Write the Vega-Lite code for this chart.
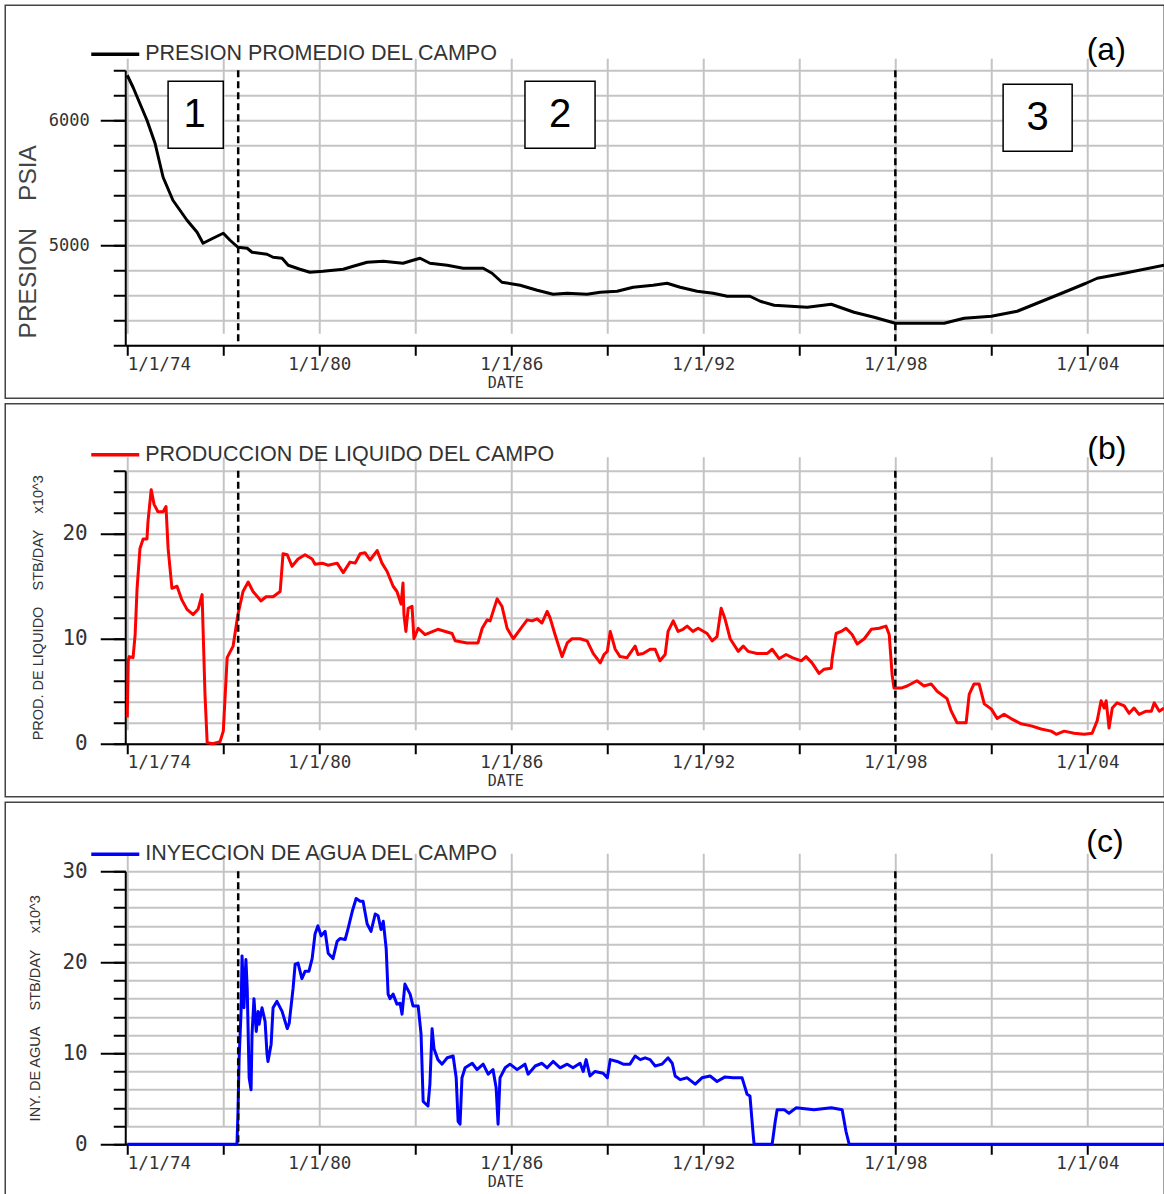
{
  "$schema": "https://vega.github.io/schema/vega-lite/v6.json",
  "padding": {"left": 4.25, "top": 4.25, "right": 0, "bottom": 0},
  "background": "white",
  "spacing": 3.5,
  "config": {
    "font": "Liberation Sans",
    "view": {"stroke": "#444444", "strokeWidth": 1.5},
    "axis": {
      "gridColor": "#c4c4c4", "gridWidth": 2,
      "domainColor": "#000000", "domainWidth": 2,
      "tickColor": "#000000", "tickWidth": 2,
      "labelColor": "#333333", "labelFont": "DejaVu Sans Mono",
      "titleColor": "#333333", "titleFontWeight": "normal", "titleFont": "Liberation Sans"
    },
    "legend": {
      "orient": "none", "title": null, "padding": 0,
      "labelFont": "Liberation Sans", "labelFontSize": 21.5, "labelColor": "#333333", "labelLimit": 1000, "labelOffset": 4,
      "symbolType": "stroke", "symbolSize": 2304, "symbolStrokeWidth": 3.5
    }
  },
  "resolve": {"scale": {"color": "independent"}, "legend": {"color": "independent"}},
  "datasets": {
    "presion": [
      {"fecha": "1974-01-01", "psia": 6360}, {"fecha": "1974-03-08", "psia": 6264}, {"fecha": "1974-08-14", "psia": 6000},
      {"fecha": "1974-11-14", "psia": 5816}, {"fecha": "1975-02-14", "psia": 5544}, {"fecha": "1975-06-06", "psia": 5360},
      {"fecha": "1975-11-14", "psia": 5200}, {"fecha": "1976-03-08", "psia": 5104}, {"fecha": "1976-05-15", "psia": 5016},
      {"fecha": "1976-09-05", "psia": 5056}, {"fecha": "1977-01-01", "psia": 5096}, {"fecha": "1977-03-19", "psia": 5040},
      {"fecha": "1977-06-17", "psia": 4984}, {"fecha": "1977-10-01", "psia": 4976}, {"fecha": "1977-11-25", "psia": 4944},
      {"fecha": "1978-05-15", "psia": 4928}, {"fecha": "1978-07-23", "psia": 4904}, {"fecha": "1978-11-03", "psia": 4896},
      {"fecha": "1979-01-12", "psia": 4840}, {"fecha": "1979-05-26", "psia": 4808}, {"fecha": "1979-09-16", "psia": 4784},
      {"fecha": "1980-02-14", "psia": 4792}, {"fecha": "1980-10-01", "psia": 4808}, {"fecha": "1981-01-23", "psia": 4832},
      {"fecha": "1981-07-01", "psia": 4864}, {"fecha": "1982-01-01", "psia": 4872}, {"fecha": "1982-04-23", "psia": 4864},
      {"fecha": "1982-08-14", "psia": 4856}, {"fecha": "1982-12-06", "psia": 4880}, {"fecha": "1983-02-25", "psia": 4896},
      {"fecha": "1983-06-17", "psia": 4856}, {"fecha": "1984-01-01", "psia": 4840}, {"fecha": "1984-07-01", "psia": 4816},
      {"fecha": "1985-02-14", "psia": 4816}, {"fecha": "1985-05-26", "psia": 4776}, {"fecha": "1985-09-16", "psia": 4704},
      {"fecha": "1986-04-12", "psia": 4680}, {"fecha": "1986-10-23", "psia": 4640}, {"fecha": "1987-04-23", "psia": 4608},
      {"fecha": "1987-10-01", "psia": 4616}, {"fecha": "1988-05-15", "psia": 4608}, {"fecha": "1988-10-12", "psia": 4624},
      {"fecha": "1989-04-23", "psia": 4632}, {"fecha": "1989-10-23", "psia": 4664}, {"fecha": "1990-06-06", "psia": 4680},
      {"fecha": "1990-11-14", "psia": 4696}, {"fecha": "1991-04-12", "psia": 4664}, {"fecha": "1991-10-23", "psia": 4632},
      {"fecha": "1992-04-23", "psia": 4616}, {"fecha": "1992-10-01", "psia": 4592}, {"fecha": "1993-06-17", "psia": 4592},
      {"fecha": "1993-10-12", "psia": 4552}, {"fecha": "1994-03-19", "psia": 4520}, {"fecha": "1995-04-01", "psia": 4504},
      {"fecha": "1996-01-01", "psia": 4528}, {"fecha": "1996-09-16", "psia": 4464}, {"fecha": "1997-05-04", "psia": 4424},
      {"fecha": "1998-01-01", "psia": 4376}, {"fecha": "1999-07-12", "psia": 4376}, {"fecha": "2000-02-25", "psia": 4416},
      {"fecha": "2001-01-01", "psia": 4432}, {"fecha": "2001-10-23", "psia": 4472}, {"fecha": "2002-06-06", "psia": 4536},
      {"fecha": "2003-04-12", "psia": 4624}, {"fecha": "2003-12-17", "psia": 4696}, {"fecha": "2004-04-23", "psia": 4736},
      {"fecha": "2005-02-25", "psia": 4776}, {"fecha": "2006-05-26", "psia": 4840}
    ],
    "liquido": [
      {"fecha": "1974-01-01", "stb": 2.5}, {"fecha": "1974-01-12", "stb": 7.9}, {"fecha": "1974-01-23", "stb": 8.3},
      {"fecha": "1974-03-08", "stb": 8.2}, {"fecha": "1974-04-01", "stb": 10.4}, {"fecha": "1974-04-23", "stb": 14.8},
      {"fecha": "1974-05-26", "stb": 18.6}, {"fecha": "1974-07-01", "stb": 19.5}, {"fecha": "1974-08-14", "stb": 19.5},
      {"fecha": "1974-08-25", "stb": 21.1}, {"fecha": "1974-10-01", "stb": 24.2}, {"fecha": "1974-11-03", "stb": 22.8},
      {"fecha": "1974-12-17", "stb": 22.1}, {"fecha": "1975-02-14", "stb": 22.1}, {"fecha": "1975-03-19", "stb": 22.6},
      {"fecha": "1975-04-12", "stb": 18.6}, {"fecha": "1975-05-26", "stb": 14.8}, {"fecha": "1975-07-23", "stb": 15.0},
      {"fecha": "1975-09-16", "stb": 13.7}, {"fecha": "1975-11-14", "stb": 12.8}, {"fecha": "1976-01-23", "stb": 12.3},
      {"fecha": "1976-03-19", "stb": 12.8}, {"fecha": "1976-05-04", "stb": 14.2}, {"fecha": "1976-05-15", "stb": 11.0},
      {"fecha": "1976-06-06", "stb": 4.7}, {"fecha": "1976-07-01", "stb": 0.1}, {"fecha": "1976-09-05", "stb": 0},
      {"fecha": "1976-11-25", "stb": 0.2}, {"fecha": "1977-01-01", "stb": 1.2}, {"fecha": "1977-02-14", "stb": 8.2},
      {"fecha": "1977-04-23", "stb": 9.3}, {"fecha": "1977-06-17", "stb": 12.3}, {"fecha": "1977-08-14", "stb": 14.5},
      {"fecha": "1977-10-12", "stb": 15.4}, {"fecha": "1977-12-06", "stb": 14.5}, {"fecha": "1978-03-08", "stb": 13.6},
      {"fecha": "1978-05-04", "stb": 14.0}, {"fecha": "1978-07-23", "stb": 14.0}, {"fecha": "1978-10-12", "stb": 14.5},
      {"fecha": "1978-11-14", "stb": 18.1}, {"fecha": "1979-01-01", "stb": 18.0}, {"fecha": "1979-02-25", "stb": 16.9},
      {"fecha": "1979-05-04", "stb": 17.6}, {"fecha": "1979-07-23", "stb": 18.0}, {"fecha": "1979-10-12", "stb": 17.6},
      {"fecha": "1979-11-14", "stb": 17.1}, {"fecha": "1980-02-03", "stb": 17.2}, {"fecha": "1980-04-12", "stb": 17.0},
      {"fecha": "1980-07-23", "stb": 17.2}, {"fecha": "1980-10-01", "stb": 16.3}, {"fecha": "1980-12-17", "stb": 17.3},
      {"fecha": "1981-02-14", "stb": 17.2}, {"fecha": "1981-04-12", "stb": 18.1}, {"fecha": "1981-06-06", "stb": 18.2},
      {"fecha": "1981-08-03", "stb": 17.5}, {"fecha": "1981-10-23", "stb": 18.4}, {"fecha": "1981-12-17", "stb": 17.2},
      {"fecha": "1982-02-14", "stb": 16.4}, {"fecha": "1982-04-23", "stb": 15.0}, {"fecha": "1982-06-06", "stb": 14.5},
      {"fecha": "1982-07-23", "stb": 13.3}, {"fecha": "1982-08-14", "stb": 15.3}, {"fecha": "1982-08-25", "stb": 12.3},
      {"fecha": "1982-09-16", "stb": 10.7}, {"fecha": "1982-10-12", "stb": 12.9}, {"fecha": "1982-11-25", "stb": 13.1},
      {"fecha": "1982-12-17", "stb": 10.0}, {"fecha": "1983-02-03", "stb": 11.0}, {"fecha": "1983-04-23", "stb": 10.4},
      {"fecha": "1983-09-16", "stb": 10.9}, {"fecha": "1984-02-25", "stb": 10.5}, {"fecha": "1984-04-01", "stb": 9.8},
      {"fecha": "1984-08-14", "stb": 9.6}, {"fecha": "1984-12-17", "stb": 9.6}, {"fecha": "1985-02-03", "stb": 11.0},
      {"fecha": "1985-04-01", "stb": 11.8}, {"fecha": "1985-05-04", "stb": 11.7}, {"fecha": "1985-07-23", "stb": 13.8},
      {"fecha": "1985-09-16", "stb": 13.1}, {"fecha": "1985-11-14", "stb": 11.0}, {"fecha": "1986-01-23", "stb": 10.0},
      {"fecha": "1986-04-12", "stb": 10.9}, {"fecha": "1986-07-01", "stb": 11.8}, {"fecha": "1986-08-25", "stb": 11.7},
      {"fecha": "1986-10-23", "stb": 11.9}, {"fecha": "1986-12-17", "stb": 11.5}, {"fecha": "1987-02-14", "stb": 12.6},
      {"fecha": "1987-03-19", "stb": 12.0}, {"fecha": "1987-05-15", "stb": 10.4}, {"fecha": "1987-08-03", "stb": 8.3},
      {"fecha": "1987-10-01", "stb": 9.6}, {"fecha": "1987-11-25", "stb": 10.0}, {"fecha": "1988-02-25", "stb": 10.0},
      {"fecha": "1988-05-15", "stb": 9.8}, {"fecha": "1988-07-23", "stb": 8.6}, {"fecha": "1988-10-12", "stb": 7.7},
      {"fecha": "1988-11-25", "stb": 8.5}, {"fecha": "1989-01-01", "stb": 8.8}, {"fecha": "1989-02-03", "stb": 10.7},
      {"fecha": "1989-04-01", "stb": 9.0}, {"fecha": "1989-05-26", "stb": 8.3}, {"fecha": "1989-08-14", "stb": 8.2},
      {"fecha": "1989-11-14", "stb": 9.3}, {"fecha": "1989-12-17", "stb": 8.5}, {"fecha": "1990-02-14", "stb": 8.6},
      {"fecha": "1990-05-04", "stb": 9.0}, {"fecha": "1990-07-01", "stb": 9.0}, {"fecha": "1990-08-25", "stb": 7.9},
      {"fecha": "1990-10-23", "stb": 8.5}, {"fecha": "1990-11-25", "stb": 10.7}, {"fecha": "1991-01-23", "stb": 11.7},
      {"fecha": "1991-03-19", "stb": 10.7}, {"fecha": "1991-05-15", "stb": 10.9}, {"fecha": "1991-07-01", "stb": 11.2},
      {"fecha": "1991-09-05", "stb": 10.7}, {"fecha": "1991-11-03", "stb": 11.0}, {"fecha": "1992-02-14", "stb": 10.5},
      {"fecha": "1992-04-12", "stb": 9.8}, {"fecha": "1992-06-06", "stb": 10.2}, {"fecha": "1992-07-23", "stb": 12.9},
      {"fecha": "1992-09-05", "stb": 11.9}, {"fecha": "1992-11-03", "stb": 10.0}, {"fecha": "1993-02-03", "stb": 8.8},
      {"fecha": "1993-04-01", "stb": 9.3}, {"fecha": "1993-05-26", "stb": 8.8}, {"fecha": "1993-09-05", "stb": 8.6},
      {"fecha": "1994-01-01", "stb": 8.6}, {"fecha": "1994-02-25", "stb": 9.0}, {"fecha": "1994-05-15", "stb": 8.1},
      {"fecha": "1994-08-03", "stb": 8.5}, {"fecha": "1994-10-12", "stb": 8.2}, {"fecha": "1995-01-23", "stb": 7.9},
      {"fecha": "1995-03-19", "stb": 8.3}, {"fecha": "1995-05-26", "stb": 7.7}, {"fecha": "1995-08-14", "stb": 6.7},
      {"fecha": "1995-10-12", "stb": 7.1}, {"fecha": "1996-01-01", "stb": 7.2}, {"fecha": "1996-01-12", "stb": 8.2},
      {"fecha": "1996-02-25", "stb": 10.5}, {"fecha": "1996-04-23", "stb": 10.7}, {"fecha": "1996-06-17", "stb": 11.0},
      {"fecha": "1996-08-25", "stb": 10.4}, {"fecha": "1996-10-23", "stb": 9.5}, {"fecha": "1997-01-12", "stb": 10.0},
      {"fecha": "1997-04-01", "stb": 10.9}, {"fecha": "1997-07-01", "stb": 11.0}, {"fecha": "1997-09-16", "stb": 11.2},
      {"fecha": "1997-10-23", "stb": 10.4}, {"fecha": "1997-11-25", "stb": 6.6}, {"fecha": "1997-12-17", "stb": 5.3},
      {"fecha": "1998-03-08", "stb": 5.3}, {"fecha": "1998-05-15", "stb": 5.5}, {"fecha": "1998-09-05", "stb": 6.0},
      {"fecha": "1998-11-25", "stb": 5.5}, {"fecha": "1999-02-14", "stb": 5.7}, {"fecha": "1999-04-23", "stb": 5.0},
      {"fecha": "1999-08-14", "stb": 4.3}, {"fecha": "1999-10-01", "stb": 3.1}, {"fecha": "1999-12-06", "stb": 2.0},
      {"fecha": "2000-03-19", "stb": 2.0}, {"fecha": "2000-04-23", "stb": 4.7}, {"fecha": "2000-06-17", "stb": 5.7},
      {"fecha": "2000-08-14", "stb": 5.7}, {"fecha": "2000-10-12", "stb": 3.8}, {"fecha": "2001-01-01", "stb": 3.3},
      {"fecha": "2001-03-08", "stb": 2.4}, {"fecha": "2001-05-26", "stb": 2.8}, {"fecha": "2001-08-14", "stb": 2.4},
      {"fecha": "2001-12-06", "stb": 1.9}, {"fecha": "2002-04-01", "stb": 1.7}, {"fecha": "2002-07-23", "stb": 1.4},
      {"fecha": "2002-11-14", "stb": 1.2}, {"fecha": "2003-01-12", "stb": 0.9}, {"fecha": "2003-04-12", "stb": 1.2},
      {"fecha": "2003-08-03", "stb": 1.0}, {"fecha": "2003-11-25", "stb": 0.9}, {"fecha": "2004-02-25", "stb": 1.0},
      {"fecha": "2004-04-23", "stb": 2.2}, {"fecha": "2004-06-06", "stb": 4.1}, {"fecha": "2004-07-12", "stb": 3.4},
      {"fecha": "2004-08-03", "stb": 4.1}, {"fecha": "2004-09-05", "stb": 1.5}, {"fecha": "2004-10-12", "stb": 3.4},
      {"fecha": "2004-12-06", "stb": 3.9}, {"fecha": "2005-02-25", "stb": 3.6}, {"fecha": "2005-04-23", "stb": 2.9},
      {"fecha": "2005-06-17", "stb": 3.4}, {"fecha": "2005-08-14", "stb": 2.8}, {"fecha": "2005-11-03", "stb": 3.1},
      {"fecha": "2006-01-01", "stb": 3.1}, {"fecha": "2006-02-03", "stb": 3.9}, {"fecha": "2006-04-01", "stb": 3.1},
      {"fecha": "2006-05-26", "stb": 3.4}
    ],
    "agua": [
      {"fecha": "1974-01-01", "stb": 0}, {"fecha": "1977-06-06", "stb": 0}, {"fecha": "1977-06-17", "stb": 3.3},
      {"fecha": "1977-07-01", "stb": 9.5}, {"fecha": "1977-07-23", "stb": 14.6}, {"fecha": "1977-08-03", "stb": 20.7},
      {"fecha": "1977-08-25", "stb": 15.0}, {"fecha": "1977-09-16", "stb": 20.3}, {"fecha": "1977-10-01", "stb": 17.1},
      {"fecha": "1977-10-23", "stb": 7.3}, {"fecha": "1977-11-14", "stb": 6.0}, {"fecha": "1977-11-25", "stb": 12.1},
      {"fecha": "1977-12-17", "stb": 16.0}, {"fecha": "1978-01-12", "stb": 12.4}, {"fecha": "1978-02-03", "stb": 14.6},
      {"fecha": "1978-02-14", "stb": 13.2}, {"fecha": "1978-03-19", "stb": 15.0}, {"fecha": "1978-04-23", "stb": 13.5},
      {"fecha": "1978-05-15", "stb": 9.9}, {"fecha": "1978-05-26", "stb": 9.1}, {"fecha": "1978-07-01", "stb": 11.0},
      {"fecha": "1978-07-23", "stb": 15.0}, {"fecha": "1978-09-05", "stb": 15.7}, {"fecha": "1978-11-03", "stb": 14.6},
      {"fecha": "1979-01-01", "stb": 12.7}, {"fecha": "1979-01-23", "stb": 13.3}, {"fecha": "1979-03-08", "stb": 17.1},
      {"fecha": "1979-04-01", "stb": 19.8}, {"fecha": "1979-05-04", "stb": 19.9}, {"fecha": "1979-06-17", "stb": 18.2},
      {"fecha": "1979-07-23", "stb": 19.0}, {"fecha": "1979-09-05", "stb": 19.0}, {"fecha": "1979-10-12", "stb": 20.4},
      {"fecha": "1979-11-14", "stb": 23.1}, {"fecha": "1979-12-17", "stb": 24.0}, {"fecha": "1980-01-23", "stb": 22.9},
      {"fecha": "1980-03-08", "stb": 23.4}, {"fecha": "1980-04-12", "stb": 21.0}, {"fecha": "1980-06-06", "stb": 20.4},
      {"fecha": "1980-07-23", "stb": 22.3}, {"fecha": "1980-08-25", "stb": 22.6}, {"fecha": "1980-10-23", "stb": 22.5},
      {"fecha": "1980-11-25", "stb": 23.7}, {"fecha": "1981-01-12", "stb": 25.6}, {"fecha": "1981-02-25", "stb": 27.0},
      {"fecha": "1981-04-12", "stb": 26.7}, {"fecha": "1981-05-15", "stb": 26.7}, {"fecha": "1981-07-01", "stb": 24.2},
      {"fecha": "1981-08-14", "stb": 23.4}, {"fecha": "1981-10-01", "stb": 25.3}, {"fecha": "1981-11-03", "stb": 25.1},
      {"fecha": "1981-12-06", "stb": 23.6}, {"fecha": "1982-01-01", "stb": 24.5}, {"fecha": "1982-02-03", "stb": 21.5},
      {"fecha": "1982-02-25", "stb": 16.5}, {"fecha": "1982-03-19", "stb": 16.0}, {"fecha": "1982-04-23", "stb": 16.5},
      {"fecha": "1982-06-06", "stb": 15.4}, {"fecha": "1982-07-12", "stb": 15.5}, {"fecha": "1982-08-03", "stb": 14.3},
      {"fecha": "1982-09-05", "stb": 17.6}, {"fecha": "1982-11-03", "stb": 16.5}, {"fecha": "1982-12-06", "stb": 15.2},
      {"fecha": "1983-02-03", "stb": 15.2}, {"fecha": "1983-03-08", "stb": 12.1}, {"fecha": "1983-04-01", "stb": 4.7},
      {"fecha": "1983-05-26", "stb": 4.2}, {"fecha": "1983-06-17", "stb": 6.6}, {"fecha": "1983-07-12", "stb": 12.7},
      {"fecha": "1983-08-03", "stb": 10.5}, {"fecha": "1983-09-16", "stb": 9.3}, {"fecha": "1983-11-03", "stb": 8.8},
      {"fecha": "1984-01-01", "stb": 9.5}, {"fecha": "1984-03-08", "stb": 9.7}, {"fecha": "1984-04-12", "stb": 7.3},
      {"fecha": "1984-05-04", "stb": 2.5}, {"fecha": "1984-05-26", "stb": 2.2}, {"fecha": "1984-06-17", "stb": 7.3},
      {"fecha": "1984-07-23", "stb": 8.4}, {"fecha": "1984-10-12", "stb": 8.9}, {"fecha": "1984-12-06", "stb": 8.2},
      {"fecha": "1985-02-14", "stb": 8.8}, {"fecha": "1985-04-12", "stb": 7.7}, {"fecha": "1985-06-06", "stb": 8.2},
      {"fecha": "1985-07-12", "stb": 6.2}, {"fecha": "1985-08-03", "stb": 2.2}, {"fecha": "1985-08-25", "stb": 7.3},
      {"fecha": "1985-10-23", "stb": 8.4}, {"fecha": "1985-12-17", "stb": 8.8}, {"fecha": "1986-03-08", "stb": 8.2},
      {"fecha": "1986-06-06", "stb": 8.8}, {"fecha": "1986-07-12", "stb": 7.7}, {"fecha": "1986-10-01", "stb": 8.6},
      {"fecha": "1986-12-17", "stb": 8.9}, {"fecha": "1987-02-14", "stb": 8.4}, {"fecha": "1987-04-23", "stb": 9.1},
      {"fecha": "1987-07-12", "stb": 8.4}, {"fecha": "1987-10-01", "stb": 8.8}, {"fecha": "1987-12-06", "stb": 8.4},
      {"fecha": "1988-02-25", "stb": 8.9}, {"fecha": "1988-04-01", "stb": 8.0}, {"fecha": "1988-05-04", "stb": 9.3},
      {"fecha": "1988-06-17", "stb": 7.5}, {"fecha": "1988-08-14", "stb": 8.0}, {"fecha": "1988-11-14", "stb": 7.8},
      {"fecha": "1989-01-01", "stb": 7.3}, {"fecha": "1989-02-03", "stb": 9.3}, {"fecha": "1989-04-23", "stb": 9.1},
      {"fecha": "1989-07-01", "stb": 8.8}, {"fecha": "1989-09-16", "stb": 8.8}, {"fecha": "1989-11-14", "stb": 9.7},
      {"fecha": "1990-01-12", "stb": 9.3}, {"fecha": "1990-03-08", "stb": 9.5}, {"fecha": "1990-05-04", "stb": 9.3},
      {"fecha": "1990-07-01", "stb": 8.6}, {"fecha": "1990-09-16", "stb": 8.8}, {"fecha": "1990-11-25", "stb": 9.5},
      {"fecha": "1991-01-12", "stb": 8.9}, {"fecha": "1991-02-14", "stb": 7.5}, {"fecha": "1991-04-12", "stb": 7.1},
      {"fecha": "1991-07-01", "stb": 7.3}, {"fecha": "1991-10-01", "stb": 6.6}, {"fecha": "1991-12-17", "stb": 7.3},
      {"fecha": "1992-03-19", "stb": 7.5}, {"fecha": "1992-06-06", "stb": 6.9}, {"fecha": "1992-09-05", "stb": 7.4},
      {"fecha": "1992-12-06", "stb": 7.3}, {"fecha": "1993-03-19", "stb": 7.3}, {"fecha": "1993-05-15", "stb": 5.5},
      {"fecha": "1993-06-17", "stb": 5.3}, {"fecha": "1993-07-23", "stb": 1.1}, {"fecha": "1993-08-03", "stb": 0},
      {"fecha": "1994-02-25", "stb": 0}, {"fecha": "1994-04-01", "stb": 2.5}, {"fecha": "1994-04-23", "stb": 3.8},
      {"fecha": "1994-07-12", "stb": 3.8}, {"fecha": "1994-09-05", "stb": 3.4}, {"fecha": "1994-11-25", "stb": 4.0},
      {"fecha": "1995-06-17", "stb": 3.8}, {"fecha": "1996-01-01", "stb": 4.0}, {"fecha": "1996-05-04", "stb": 3.8},
      {"fecha": "1996-06-17", "stb": 1.4}, {"fecha": "1996-07-23", "stb": 0}, {"fecha": "2006-05-28", "stb": 0}
    ],
    "fases": [{"fecha": "1977-06-20"}, {"fecha": "1998-01-01"}],
    "zonas": [
      {"zona": "1", "desde": "1975-04-12", "hasta": "1977-01-01", "arriba": 6312, "abajo": 5776, "centro": "1976-02-08", "medio": 6044},
      {"zona": "2", "desde": "1986-06-06", "hasta": "1988-08-14", "arriba": 6312, "abajo": 5776, "centro": "1987-07-12", "medio": 6044},
      {"zona": "3", "desde": "2001-05-15", "hasta": "2003-07-12", "arriba": 6288, "abajo": 5752, "centro": "2002-06-12", "medio": 6020}
    ]
  },
  "vconcat": [
    {
      "width": 1159, "height": 393,
      "resolve": {"axis": {"y": "independent"}},
      "layer": [
        {
          "data": {"name": "presion"},
          "mark": {"type": "line", "strokeWidth": 3, "strokeJoin": "round", "clip": true},
          "encoding": {
            "x": {"field": "fecha", "type": "temporal",
              "scale": {"type": "utc", "domain": [{"year": 1973, "month": 12, "date": 9, "utc": true}, {"year": 2006, "month": 5, "date": 28, "utc": true}], "range": [120, 1159]},
              "axis": {"orient": "bottom", "offset": -53, "grid": true, "tickSize": 10, "labelPadding": 0, "labelFlush": 8, "labelFontSize": 17.5, "labelOverlap": false,
                "values": [{"year": 1974, "utc": true}, {"year": 1977, "utc": true}, {"year": 1980, "utc": true}, {"year": 1983, "utc": true}, {"year": 1986, "utc": true}, {"year": 1989, "utc": true}, {"year": 1992, "utc": true}, {"year": 1995, "utc": true}, {"year": 1998, "utc": true}, {"year": 2001, "utc": true}, {"year": 2004, "utc": true}],
                "labelExpr": "utcyear(datum.value) % 6 == 0 ? '1/1/' + utcFormat(datum.value, '%y') : ''",
                "title": "DATE", "titleX": 500, "titleY": 30, "titleBaseline": "top", "titleAlign": "center", "titleFont": "DejaVu Sans Mono", "titleFontSize": 15}},
            "y": {"field": "psia", "type": "quantitative",
              "scale": {"domain": [4200, 6400], "range": [340, 65], "nice": false, "zero": false},
              "axis": {"orient": "left", "offset": -120, "grid": true, "tickSize": 12, "labels": false, "title": null,
                "values": [4200, 4400, 4600, 4800, 5000, 5200, 5400, 5600, 5800, 6000, 6200, 6400]}},
            "color": {"datum": "PRESION PROMEDIO DEL CAMPO", "scale": {"range": ["#000000"]}, "legend": {"legendX": 84, "legendY": 23}}
          }
        },
        {
          "data": {"name": "fases"},
          "mark": {"type": "rule", "color": "#000000", "strokeWidth": 2.5, "strokeDash": [7, 4]},
          "encoding": {
            "x": {"field": "fecha", "type": "temporal"},
            "y": {"datum": 6400, "type": "quantitative",
              "axis": {"orient": "left", "offset": -120, "grid": false, "domain": false, "tickSize": 25, "labelPadding": 11, "labelFontSize": 17, "format": "d",
                "values": [5000, 6000],
                "title": "PRESION\u00a0\u00a0\u00a0\u00a0PSIA", "titleFontSize": 24.5, "titleX": -97, "titleY": 236, "titleBaseline": "middle", "titleAngle": 270, "titleColor": "#444444"}},
            "y2": {"datum": 4200}
          }
        },
        {
          "data": {"name": "zonas"},
          "mark": {"type": "rect", "fill": "#ffffff", "stroke": "#000000", "strokeWidth": 1.5},
          "encoding": {
            "x": {"field": "desde", "type": "temporal"},
            "x2": {"field": "hasta"},
            "y": {"field": "arriba", "type": "quantitative", "axis": null},
            "y2": {"field": "abajo"}
          }
        },
        {
          "data": {"name": "zonas"},
          "mark": {"type": "text", "fontSize": 40, "font": "Liberation Sans", "color": "#000000", "baseline": "middle", "align": "center"},
          "encoding": {
            "x": {"field": "centro", "type": "temporal"},
            "y": {"field": "medio", "type": "quantitative", "axis": null},
            "text": {"field": "zona"}
          }
        },
        {
          "data": {"values": [{}]},
          "mark": {"type": "text", "text": "(a)", "fontSize": 32, "font": "Liberation Sans", "color": "#000000", "baseline": "alphabetic", "align": "center"},
          "encoding": {
            "x": {"datum": {"year": 2004, "month": 8, "date": 4, "utc": true}, "type": "temporal"},
            "y": {"datum": 6480, "type": "quantitative", "axis": null}
          }
        }
      ]
    },
    {
      "width": 1159, "height": 393,
      "resolve": {"axis": {"y": "independent"}},
      "layer": [
        {
          "data": {"name": "liquido"},
          "mark": {"type": "line", "strokeWidth": 3, "strokeJoin": "round", "clip": true},
          "encoding": {
            "x": {"field": "fecha", "type": "temporal",
              "scale": {"type": "utc", "domain": [{"year": 1973, "month": 12, "date": 9, "utc": true}, {"year": 2006, "month": 5, "date": 28, "utc": true}], "range": [120, 1159]},
              "axis": {"orient": "bottom", "offset": -53, "grid": true, "tickSize": 10, "labelPadding": 0, "labelFlush": 8, "labelFontSize": 17.5, "labelOverlap": false,
                "values": [{"year": 1974, "utc": true}, {"year": 1977, "utc": true}, {"year": 1980, "utc": true}, {"year": 1983, "utc": true}, {"year": 1986, "utc": true}, {"year": 1989, "utc": true}, {"year": 1992, "utc": true}, {"year": 1995, "utc": true}, {"year": 1998, "utc": true}, {"year": 2001, "utc": true}, {"year": 2004, "utc": true}],
                "labelExpr": "utcyear(datum.value) % 6 == 0 ? '1/1/' + utcFormat(datum.value, '%y') : ''",
                "title": "DATE", "titleX": 500, "titleY": 30, "titleBaseline": "top", "titleAlign": "center", "titleFont": "DejaVu Sans Mono", "titleFontSize": 15}},
            "y": {"field": "stb", "type": "quantitative",
              "scale": {"domain": [0, 26], "range": [340, 67], "nice": false},
              "axis": {"orient": "left", "offset": -120, "grid": true, "tickSize": 12, "labels": false, "title": null,
                "values": [0, 2, 4, 6, 8, 10, 12, 14, 16, 18, 20, 22, 24, 26]}},
            "color": {"datum": "PRODUCCION DE LIQUIDO DEL CAMPO", "scale": {"range": ["#ff0000"]}, "legend": {"legendX": 84, "legendY": 25}}
          }
        },
        {
          "data": {"name": "fases"},
          "mark": {"type": "rule", "color": "#000000", "strokeWidth": 2.5, "strokeDash": [7, 4]},
          "encoding": {
            "x": {"field": "fecha", "type": "temporal"},
            "y": {"datum": 26, "type": "quantitative",
              "axis": {"orient": "left", "offset": -120, "grid": false, "domain": false, "tickSize": 25, "labelPadding": 13, "labelFontSize": 21,
                "values": [0, 10, 20],
                "title": "PROD. DE LIQUIDO\u00a0\u00a0\u00a0\u00a0STB/DAY\u00a0\u00a0\u00a0\u00a0x10^3", "titleFontSize": 14.5, "titleX": -87, "titleBaseline": "middle", "titleAngle": 270}},
            "y2": {"datum": 0}
          }
        },
        {
          "data": {"values": [{}]},
          "mark": {"type": "text", "text": "(b)", "fontSize": 32, "font": "Liberation Sans", "color": "#000000", "baseline": "alphabetic", "align": "center"},
          "encoding": {
            "x": {"datum": {"year": 2004, "month": 8, "date": 10, "utc": true}, "type": "temporal"},
            "y": {"datum": 27.1, "type": "quantitative", "axis": null}
          }
        }
      ]
    },
    {
      "width": 1159, "height": 393,
      "resolve": {"axis": {"y": "independent"}},
      "layer": [
        {
          "data": {"name": "agua"},
          "mark": {"type": "line", "strokeWidth": 3, "strokeJoin": "round", "clip": true},
          "encoding": {
            "x": {"field": "fecha", "type": "temporal",
              "scale": {"type": "utc", "domain": [{"year": 1973, "month": 12, "date": 9, "utc": true}, {"year": 2006, "month": 5, "date": 28, "utc": true}], "range": [120, 1159]},
              "axis": {"orient": "bottom", "offset": -51, "grid": true, "tickSize": 10, "labelPadding": 0, "labelFlush": 8, "labelFontSize": 17.5, "labelOverlap": false,
                "values": [{"year": 1974, "utc": true}, {"year": 1977, "utc": true}, {"year": 1980, "utc": true}, {"year": 1983, "utc": true}, {"year": 1986, "utc": true}, {"year": 1989, "utc": true}, {"year": 1992, "utc": true}, {"year": 1995, "utc": true}, {"year": 1998, "utc": true}, {"year": 2001, "utc": true}, {"year": 2004, "utc": true}],
                "labelExpr": "utcyear(datum.value) % 6 == 0 ? '1/1/' + utcFormat(datum.value, '%y') : ''",
                "title": "DATE", "titleX": 500, "titleY": 30, "titleBaseline": "top", "titleAlign": "center", "titleFont": "DejaVu Sans Mono", "titleFontSize": 15}},
            "y": {"field": "stb", "type": "quantitative",
              "scale": {"domain": [0, 30], "range": [342, 69], "nice": false},
              "axis": {"orient": "left", "offset": -120, "grid": true, "tickSize": 12, "labels": false, "title": null,
                "values": [0, 2, 4, 6, 8, 10, 12, 14, 16, 18, 20, 22, 24, 26, 28, 30]}},
            "color": {"datum": "INYECCION DE AGUA DEL CAMPO", "scale": {"range": ["#0000ff"]}, "legend": {"legendX": 84, "legendY": 26}}
          }
        },
        {
          "data": {"name": "fases"},
          "mark": {"type": "rule", "color": "#000000", "strokeWidth": 2.5, "strokeDash": [7, 4]},
          "encoding": {
            "x": {"field": "fecha", "type": "temporal"},
            "y": {"datum": 30, "type": "quantitative",
              "axis": {"orient": "left", "offset": -120, "grid": false, "domain": false, "tickSize": 25, "labelPadding": 13, "labelFontSize": 21,
                "values": [0, 10, 20, 30],
                "title": "INY. DE AGUA\u00a0\u00a0\u00a0\u00a0STB/DAY\u00a0\u00a0\u00a0\u00a0x10^3", "titleFontSize": 14.5, "titleX": -90, "titleBaseline": "middle", "titleAngle": 270}},
            "y2": {"datum": 0}
          }
        },
        {
          "data": {"values": [{}]},
          "mark": {"type": "text", "text": "(c)", "fontSize": 32, "font": "Liberation Sans", "color": "#000000", "baseline": "alphabetic", "align": "center"},
          "encoding": {
            "x": {"datum": {"year": 2004, "month": 7, "date": 20, "utc": true}, "type": "temporal"},
            "y": {"datum": 32.1, "type": "quantitative", "axis": null}
          }
        }
      ]
    }
  ]
}
